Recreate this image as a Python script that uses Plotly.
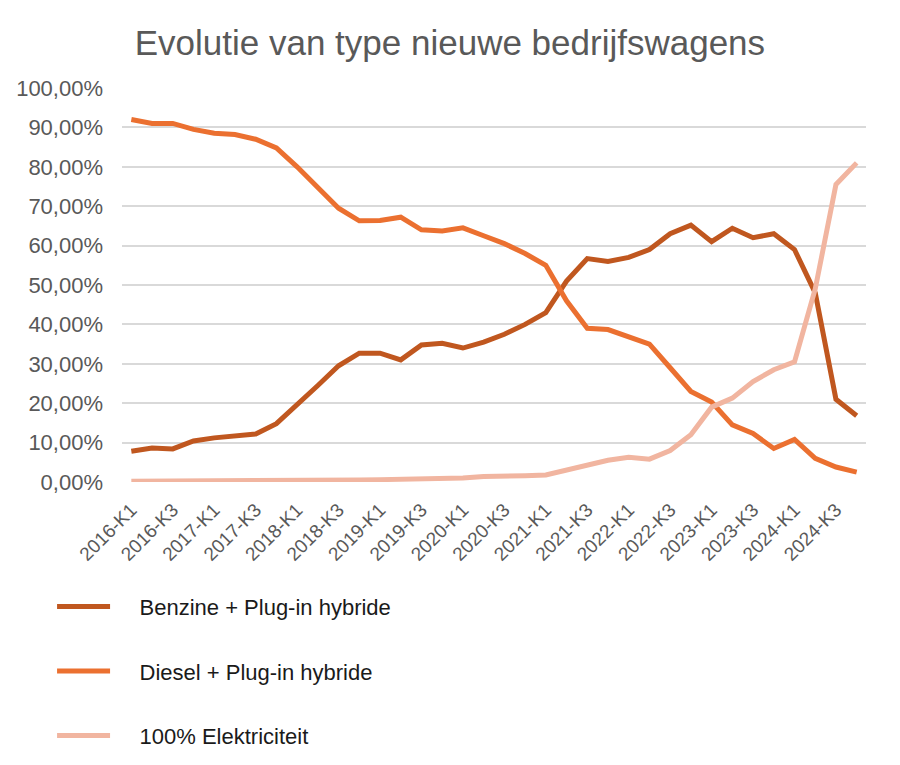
import plotly.graph_objects as go

# kwartalen 2016-K1 .. 2024-K4
kwartalen = [f"{j}-K{k}" for j in range(2016, 2025) for k in range(1, 5)]

benzine = [7.8, 8.6, 8.4, 10.4, 11.2, 11.6, 12.2, 14.8,
           19.5, 24.5, 29.5, 32.7, 32.7, 31.0, 34.8, 35.2,
           34.0, 35.5, 37.5, 40.0, 43.0, 51.0, 56.7, 56.0,
           57.0, 59.0, 63.0, 65.2, 61.0, 64.4, 62.0, 63.0,
           59.0, 48.0, 21.0, 16.8]

diesel = [92.0, 91.0, 91.0, 89.5, 88.5, 88.2, 87.0, 84.8,
          80.0, 74.7, 69.5, 66.3, 66.4, 67.2, 64.0, 63.7,
          64.5, 62.5, 60.5, 58.0, 55.0, 46.0, 39.0, 38.7,
          37.0, 35.0, 29.0, 23.0, 20.3, 14.5, 12.3, 8.5,
          10.8, 6.0, 3.8, 2.5]

elektriciteit = [0.2, 0.2, 0.3, 0.2, 0.2, 0.2, 0.2, 0.2,
                 0.3, 0.2, 0.2, 0.5, 0.6, 0.7, 0.8, 0.7,
                 1.0, 1.4, 1.4, 1.6, 1.8, 3.0, 4.5, 5.5,
                 6.3, 5.8, 8.0, 12.0, 19.0, 21.3, 25.5, 28.5,
                 30.5, 49.0, 75.5, 81.0]

reeksen = [
    ("Benzine + Plug-in hybride", benzine, "#C0571F"),
    ("Diesel + Plug-in hybride", diesel, "#EB7030"),
    ("100% Elektriciteit", elektriciteit, "#F1B5A0"),
]

fig = go.Figure()
for i, (naam, waarden, kleur) in enumerate(reeksen):
    fig.add_trace(go.Scatter(x=kwartalen, y=waarden, mode="lines",
                             name="\u00a0" * 4 + naam,
                             legendgroup=str(i),
                             line=dict(color=kleur, width=5)))

grijs = "#595959"
fig.update_layout(
    width=900, height=765,
    separators=",.",
    paper_bgcolor="white", plot_bgcolor="white",
    font=dict(family="Liberation Sans, Arial", color=grijs),
    title=dict(text="Evolutie van type nieuwe bedrijfswagens",
               font=dict(size=35, color=grijs),
               x=0.491, xanchor="center", y=0.955, yanchor="middle"),
    margin=dict(l=114, r=42, t=80, b=291, autoexpand=False),
    showlegend=True,
    legend=dict(orientation="v", x=-0.094, xanchor="left",
                y=-0.263, yanchor="top", tracegroupgap=33,
                font=dict(size=22, color="#1a1a1a"), itemwidth=53),
    xaxis=dict(type="category", range=[-0.45, 35.45], dtick=2,
               tickangle=-45, tickfont=dict(size=19, color=grijs),
               ticklabelstandoff=12,
               showgrid=False, zeroline=False, showline=False, ticks="",
               automargin=False),
    yaxis=dict(range=[0, 100], dtick=10, tickformat=".2f", ticksuffix="%",
               tickfont=dict(size=22, color=grijs), ticklabelstandoff=18,
               showgrid=True, gridcolor="#D9D9D9", gridwidth=1.5,
               zeroline=False, showline=False, ticks="", automargin=False),
)

fig.write_html("out.html")
